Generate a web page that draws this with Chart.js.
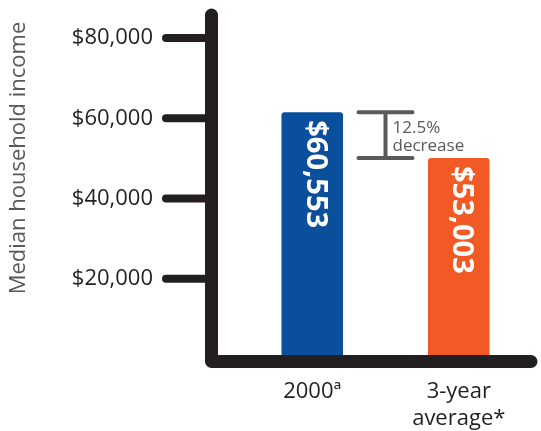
<!DOCTYPE html>
<html lang="en">
<head>
    <meta charset="UTF-8">
    <title>Median household income</title>
    <script src="https://cdn.jsdelivr.net/npm/chart.js"></script>
    <style>
        html, body { margin: 0; padding: 0; background: #fff; }
        #wrap { width: 541px; height: 431px; }
    </style>
</head>
<body>
    <div id="wrap"><canvas id="incomeChart"></canvas></div>
    <script>
        const categories = ['2000\u00aa', ['3-year', 'average*']];
        const barValues = [61500, 50100];          // bar heights as drawn
        const barLabels = ['$60,553', '$53,003'];
        const barColors = ['#0a4f9c', '#f15a24'];
        const tickValues = [20000, 40000, 60000, 80000];
        const tickLabels = ['$20,000', '$40,000', '$60,000', '$80,000'];
        const axisTitle = 'Median household income';
        const changeText = ['12.5%', 'decrease'];

        const ink = '#231f20';
        const grey = '#58595b';

        const decorations = {
            id: 'decorations',
            afterDatasetsDraw(chart) {
                const ctx = chart.ctx;
                const area = chart.chartArea;
                const y = chart.scales.y;
                const axisX = area.left - 27.5;
                const axisY = y.getPixelForValue(0) + 2.5;

                ctx.save();
                // y title
                ctx.fillStyle = grey;
                ctx.font = '22px "Open Sans"';
                ctx.textAlign = 'center';
                ctx.textBaseline = 'middle';
                ctx.save();
                ctx.translate(19, 158);
                ctx.rotate(-Math.PI / 2);
                ctx.fillText(axisTitle, 0, 0);
                ctx.restore();

                // tick marks and tick labels
                ctx.strokeStyle = ink;
                ctx.fillStyle = ink;
                ctx.lineCap = 'round';
                ctx.lineWidth = 8;
                ctx.font = '22px "Open Sans"';
                ctx.textAlign = 'right';
                tickValues.forEach((v, i) => {
                    const py = y.getPixelForValue(v);
                    ctx.beginPath();
                    ctx.moveTo(166, py);
                    ctx.lineTo(axisX, py);
                    ctx.stroke();
                    ctx.fillText(tickLabels[i], 153, py);
                });
                // axis lines
                ctx.lineWidth = 13;
                ctx.lineJoin = 'round';
                ctx.beginPath();
                ctx.moveTo(axisX, area.top + 5);
                ctx.lineTo(axisX, axisY);
                ctx.lineTo(area.right - 1, axisY);
                ctx.stroke();

                // labels inside the bars
                const bars = chart.getDatasetMeta(0).data;
                ctx.fillStyle = '#fff';
                ctx.font = 'bold 29px "Open Sans"';
                ctx.textAlign = 'left';
                ctx.textBaseline = 'middle';
                bars.forEach((bar, i) => {
                    ctx.save();
                    ctx.translate(bar.x, bar.y + 8);
                    ctx.rotate(Math.PI / 2);
                    ctx.fillText(barLabels[i], 0, -3);
                    ctx.restore();
                });

                // bracket between the two bars
                const b0 = bars[0], b1 = bars[1];
                const cx = ((b0.x + b0.width / 2) + (b1.x - b1.width / 2)) / 2;
                ctx.strokeStyle = grey;
                ctx.lineWidth = 4;
                ctx.beginPath();
                ctx.moveTo(cx - 27, b0.y); ctx.lineTo(cx + 27, b0.y);
                ctx.moveTo(cx, b0.y); ctx.lineTo(cx, b1.y);
                ctx.moveTo(cx - 27, b1.y); ctx.lineTo(cx + 27, b1.y);
                ctx.stroke();
                ctx.fillStyle = grey;
                ctx.font = '17px "Open Sans"';
                ctx.fillText(changeText[0], cx + 7, b0.y + 16);
                ctx.fillText(changeText[1], cx + 7, b0.y + 34);
                ctx.restore();
            }
        };

        const ctx = document.getElementById('incomeChart').getContext('2d');
        new Chart(ctx, {
            type: 'bar',
            data: {
                labels: categories,
                datasets: [{
                    data: barValues,
                    backgroundColor: barColors,
                    borderRadius: { topLeft: 3, topRight: 3 },
                    borderSkipped: 'bottom',
                    barPercentage: 0.42,
                    categoryPercentage: 1
                }]
            },
            options: {
                responsive: true,
                maintainAspectRatio: false,
                animation: false,
                layout: { padding: { top: 10, right: 9, left: 0, bottom: 0 } },
                plugins: { legend: { display: false }, tooltip: { enabled: false } },
                scales: {
                    x: {
                        grid: { display: false },
                        border: { display: false },
                        afterFit: s => { s.height = 72; },
                        ticks: {
                            padding: 12,
                            color: ink,
                            font: { family: 'Open Sans', size: 22 },
                            maxRotation: 0
                        }
                    },
                    y: {
                        min: 0,
                        max: 87000,
                        grid: { display: false, drawTicks: false },
                        border: { display: false },
                        ticks: { display: false, stepSize: 20000 },
                        afterFit: s => {
                            s.width = 239;
                            s.paddingTop = 0;
                            s.paddingBottom = 0;
                        }
                    }
                }
            },
            plugins: [decorations]
        });
    </script>
</body>
</html>
